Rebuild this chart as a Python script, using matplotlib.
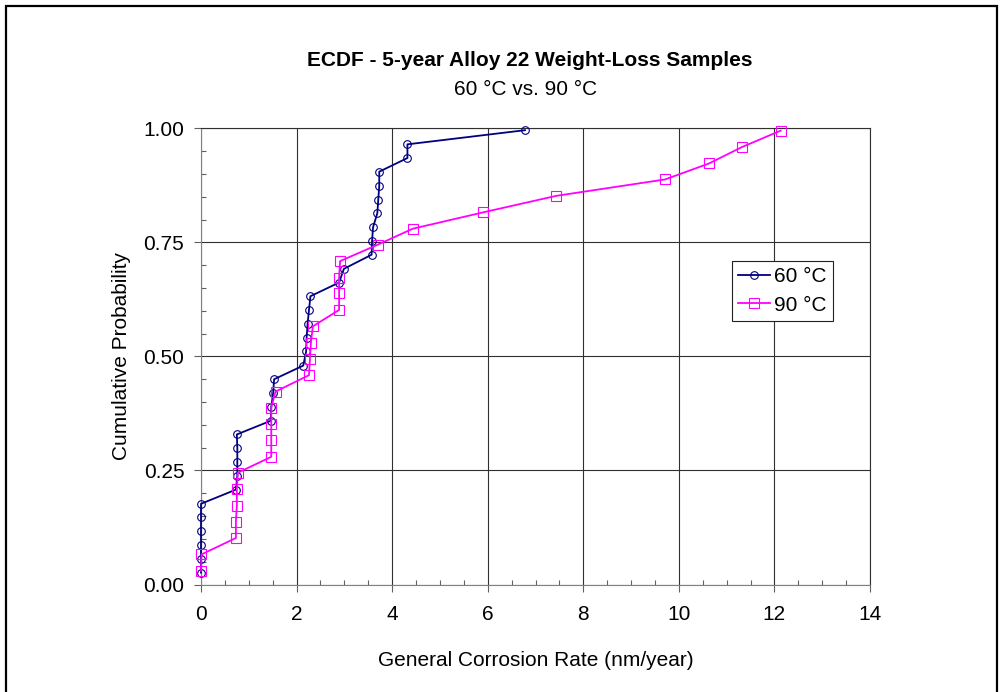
import matplotlib
matplotlib.use("Agg")
import matplotlib.pyplot as plt
from matplotlib.patches import Rectangle
from matplotlib.ticker import MultipleLocator, FormatStrFormatter

plt.rcParams['font.family'] = ['Liberation Sans', 'DejaVu Sans']

# corrosion rates (nm/year), sorted, and their cumulative probabilities
rate_60 = [0.0, 0.0, 0.0, 0.0, 0.0, 0.0,
           0.73, 0.76, 0.76, 0.76, 0.75,
           1.46, 1.47, 1.51, 1.53,
           2.14, 2.20, 2.21, 2.23, 2.26, 2.29,
           2.89, 2.99,
           3.57, 3.58, 3.60, 3.69, 3.71, 3.73, 3.73,
           4.32, 4.32,
           6.78]
prob_60 = [0.026, 0.056, 0.086, 0.117, 0.147, 0.177,
           0.208, 0.238, 0.268, 0.299, 0.329,
           0.359, 0.389, 0.420, 0.450,
           0.480, 0.511, 0.541, 0.571, 0.602, 0.632,
           0.662, 0.692,
           0.723, 0.753, 0.783, 0.814, 0.844, 0.874, 0.905,
           0.935, 0.965,
           0.996]

rate_90 = [0.0, 0.01,
           0.73, 0.73, 0.75, 0.75, 0.77,
           1.47, 1.47, 1.47, 1.47, 1.56,
           2.26, 2.28, 2.30, 2.34,
           2.89, 2.89, 2.89, 2.91,
           3.70, 4.43, 5.91, 7.43, 9.71, 10.63, 11.32, 12.13]
prob_90 = [0.030, 0.066,
           0.102, 0.138, 0.173, 0.209, 0.245,
           0.280, 0.316, 0.352, 0.388, 0.423,
           0.459, 0.495, 0.530, 0.566,
           0.602, 0.638, 0.673, 0.709,
           0.745, 0.780, 0.816, 0.852, 0.888, 0.923, 0.959, 0.995]

fig = plt.figure(figsize=(10, 6.92), dpi=100)
ax = fig.add_axes([0.201, 0.1553, 0.669, 0.6592])

ax.plot(rate_60, prob_60, color='#000080', lw=1.3, marker='o', ms=5.5,
        mfc='none', mec='#000080', mew=0.8, label='60 °C', zorder=3,
        clip_on=False)
ax.plot(rate_90, prob_90, color='#FF00FF', lw=1.3, marker='s', ms=7,
        mfc='none', mec='#FF00FF', mew=0.8, label='90 °C', zorder=3,
        clip_on=False)

ax.set_xlim(0, 14)
ax.set_ylim(0, 1)
ax.xaxis.set_major_locator(MultipleLocator(2))
ax.xaxis.set_minor_locator(MultipleLocator(0.5))
ax.yaxis.set_major_locator(MultipleLocator(0.25))
ax.yaxis.set_minor_locator(MultipleLocator(0.05))
ax.yaxis.set_major_formatter(FormatStrFormatter('%.2f'))

ax.grid(True, which='major', color='#303030', lw=0.8)
ax.set_axisbelow(True)
ax.tick_params(which='major', direction='out', length=5, width=0.8,
               color='#606060', labelsize=15)
ax.tick_params(which='minor', direction='in', length=3.5, width=0.8,
               color='#606060')
ax.tick_params(axis='x', which='major', pad=10)
ax.tick_params(axis='y', which='major', pad=7)
for side in ['left', 'bottom']:
    ax.spines[side].set_color('#808080')
for side in ['top', 'right']:
    ax.spines[side].set_color('#303030')

ax.set_xlabel('General Corrosion Rate (nm/year)', fontsize=15, labelpad=19)
ax.set_ylabel('Cumulative Probability', fontsize=15, labelpad=9)

leg = ax.legend(loc='upper left', bbox_to_anchor=(0.794, 0.709),
                fontsize=15, frameon=True, fancybox=False, framealpha=1,
                edgecolor='#202020', handlelength=1.5, borderpad=0.3,
                labelspacing=0.45, handletextpad=0.2, borderaxespad=0)
leg.get_frame().set_linewidth(0.8)

fig.text(0.53, 0.912, 'ECDF - 5-year Alloy 22 Weight-Loss Samples',
         ha='center', va='center', fontsize=15, fontweight='bold')
fig.text(0.526, 0.871, '60 °C vs. 90 °C', ha='center', va='center', fontsize=15)

# outer chart frame, open at the bottom edge
fig.patches.append(Rectangle((0.006, -0.05), 0.991, 1.042, fill=False,
                             lw=1.6, edgecolor='black',
                             transform=fig.transFigure, figure=fig))

fig.savefig('out.png', dpi=100)
